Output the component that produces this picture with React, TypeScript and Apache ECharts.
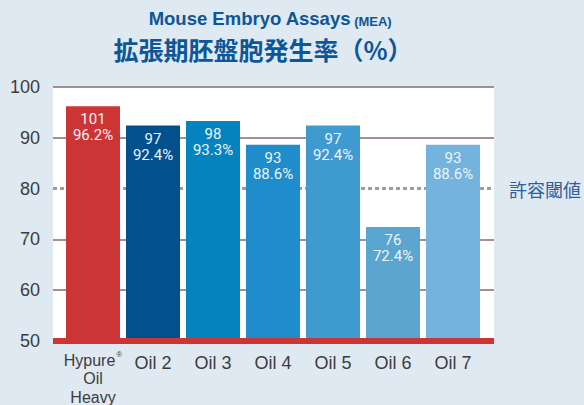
import React, { useEffect, useRef } from "react";
import * as echarts from "echarts";

const categories = ["Hypure", "Oil 2", "Oil 3", "Oil 4", "Oil 5", "Oil 6", "Oil 7"];
const counts = [101, 97, 98, 93, 97, 76, 93];
const rates = [96.2, 92.4, 93.3, 88.6, 92.4, 72.4, 88.6];
const barColors = ["#cc3535", "#02508c", "#0583bf", "#1f8dcb", "#3f9acf", "#5aa6d0", "#73b3dd"];
const yMin = 50;
const yMax = 100;
const yStep = 10;
const yTicks = [50, 60, 70, 80, 90, 100];
const threshold = 80;
const thresholdLabel = "許容閾値";
const titleEn = "Mouse Embryo Assays";
const titleEnSmall = "(MEA)";
const titleJa = "拡張期胚盤胞発生率（%）";

export default function App() {
  const ref = useRef<HTMLDivElement>(null);
  useEffect(() => {
    if (!ref.current) return;
    const chart = echarts.init(ref.current, null, { renderer: "svg" });
    const gridTop = 87;
    const gridBottom = 64;
    const gridColor = "#a68f94";
    chart.setOption({
      animation: false,
      backgroundColor: "#dfe9f2",
      grid: [
        { left: 53, right: 90, top: gridTop, bottom: gridBottom, show: true, backgroundColor: "#ffffff", borderWidth: 0 },
        { left: 63, right: 101, top: gridTop, bottom: gridBottom },
      ],
      xAxis: [
        {
          type: "value",
          gridIndex: 0,
          min: 0,
          max: 1,
          z: 10,
          axisLine: { show: true, lineStyle: { color: "#cc3535", width: 6, cap: "butt" } },
          axisTick: { show: false },
          axisLabel: { show: false },
          splitLine: { show: false },
        },
        {
          type: "category",
          gridIndex: 1,
          data: categories,
          axisLine: { show: false },
          axisTick: { show: false },
          axisLabel: {
            margin: 10,
            interval: 0,
            formatter: (v: string, i: number) =>
              i === 0 ? "{s|Hypure}{sup|®}\n{s|Oil}\n{s|Heavy}" : `{b|${v}}`,
            rich: {
              s: { fontSize: 16, lineHeight: 18.5, color: "#3c3c3c", fontFamily: "Liberation Sans" },
              sup: { fontSize: 8, lineHeight: 10, verticalAlign: "top", color: "#3c3c3c", fontFamily: "Liberation Sans", padding: [0, 0, 0, 1] },
              b: { fontSize: 18, lineHeight: 24, color: "#3c3c3c", fontFamily: "Liberation Sans" },
            },
          },
        },
      ],
      yAxis: [
        {
          type: "value",
          gridIndex: 0,
          min: yMin,
          max: yMax,
          interval: yStep,
          axisLine: { show: false },
          axisTick: { show: false },
          axisLabel: { margin: 13, fontSize: 18, color: "#3c3c3c", fontFamily: "Liberation Sans" },
          splitLine: {
            show: true,
            lineStyle: {
              color: yTicks.map((t) => (t === threshold ? "rgba(0,0,0,0)" : gridColor)),
              width: 2,
            },
          },
        },
        {
          type: "value",
          gridIndex: 1,
          min: yMin,
          max: yMax,
          interval: yStep,
          show: false,
          splitLine: { show: false },
        },
      ],
      graphic: [
        {
          type: "text",
          x: 270,
          y: 18,
          style: {
            text: `{a|${titleEn}} {b|${titleEnSmall}}`,
            align: "center",
            verticalAlign: "middle",
            rich: {
              a: { fontSize: 18.5, fontWeight: "bold", fill: "#0d5697", fontFamily: "Liberation Sans", lineHeight: 20 },
              b: { fontSize: 13, fontWeight: "bold", fill: "#0d5697", fontFamily: "Liberation Sans", lineHeight: 14, verticalAlign: "bottom" },
            },
          },
        },
        {
          type: "text",
          x: 263,
          y: 49,
          style: {
            text: titleJa,
            align: "center",
            verticalAlign: "middle",
            fontSize: 25,
            fontWeight: "bold",
            fill: "#0d5697",
            fontFamily: "Noto Sans CJK JP",
          },
        },
      ],
      series: [
        {
          type: "line",
          xAxisIndex: 0,
          yAxisIndex: 0,
          data: [],
          z: 2,
          silent: true,
          markLine: {
            silent: true,
            z: 2,
            symbol: ["none", "none"],
            lineStyle: { color: "#a8979b", width: 3, type: [4, 3] },
            label: {
              show: true,
              position: "end",
              distance: 15,
              formatter: thresholdLabel,
              color: "#2e5f9c",
              fontSize: 18,
              fontFamily: "Noto Sans CJK JP",
            },
            data: [{ yAxis: threshold }],
          },
        },
        {
          type: "bar",
          xAxisIndex: 1,
          yAxisIndex: 1,
          z: 3,
          barWidth: 54,
          data: rates.map((v, i) => ({ value: v, itemStyle: { color: barColors[i] } })),
          label: {
            show: true,
            position: "insideTop",
            distance: 5,
            color: "#eef3f8",
            fontSize: 15,
            lineHeight: 16,
            fontFamily: "Roboto",
            formatter: (p: any) => `${counts[p.dataIndex]}\n${p.value}%`,
          },
        },
      ],
    });
    return () => chart.dispose();
  }, []);
  return <div ref={ref} style={{ position: "fixed", left: 0, top: 0, width: 584, height: 405 }} />;
}
